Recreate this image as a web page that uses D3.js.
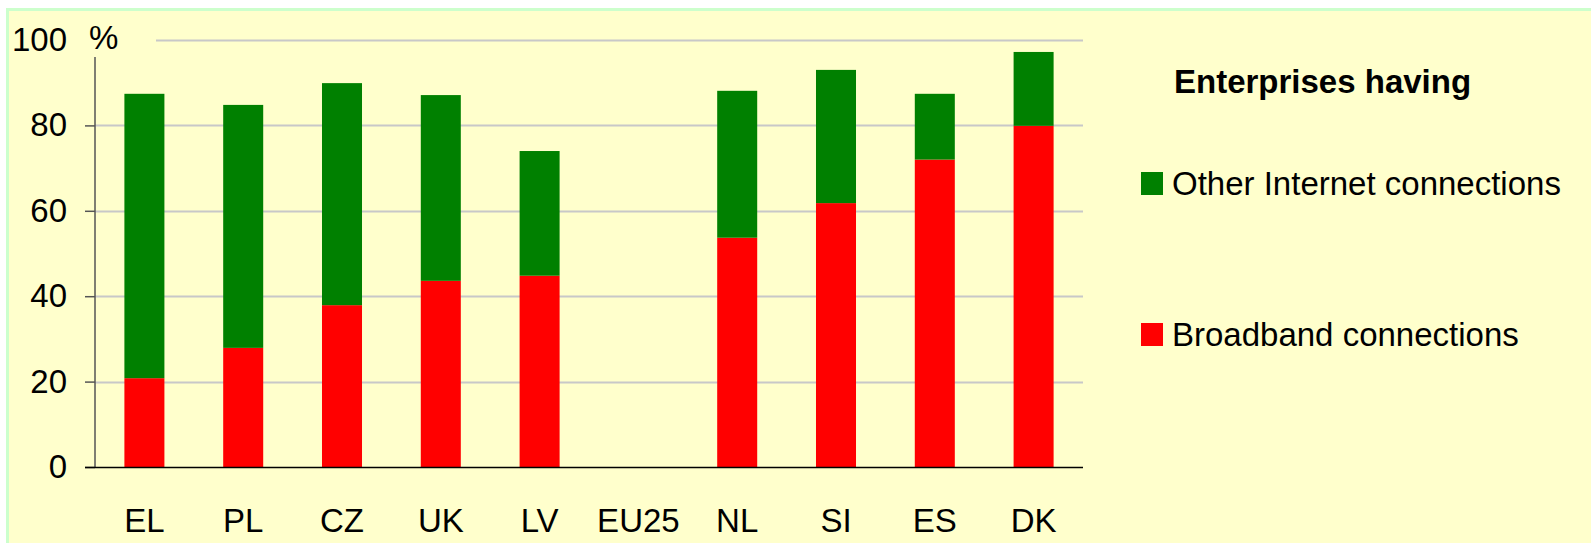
<!DOCTYPE html>
<html>
<head>
<meta charset="utf-8">
<script src="https://cdn.jsdelivr.net/npm/d3@7"></script>
<style>
  body { margin: 0; background: #fff; }
  svg { display: block; font-family: "Liberation Sans", Arial, sans-serif; }
</style>
</head>
<body>
<svg width="1591" height="543"></svg>
<script>
// data (%)
var categories = ['EL', 'PL', 'CZ', 'UK', 'LV', 'EU25', 'NL', 'SI', 'ES', 'DK'];
var broadband = [20.8, 27.9, 37.9, 43.6, 44.8, 0, 53.7, 61.8, 72.0, 79.9];
var other = [66.6, 56.9, 52.0, 43.5, 29.2, 0, 34.4, 31.2, 15.4, 17.3];
var yTicks = [0, 20, 40, 60, 80, 100];

var seriesKeys = ['broadband', 'other'];
var seriesNames = { broadband: 'Broadband connections', other: 'Other Internet connections' };
var colors = { broadband: '#ff0000', other: '#008000' };

var rows = categories.map(function(c, i) {
  return { cat: c, broadband: broadband[i], other: other[i] };
});

var svg = d3.select('svg');

// panel background + border
svg.append('rect')
  .attr('x', 6).attr('y', 8)
  .attr('width', 1600).attr('height', 560)
  .attr('fill', '#ccffcc');
svg.append('rect')
  .attr('x', 9).attr('y', 11)
  .attr('width', 1600).attr('height', 560)
  .attr('fill', '#ffffcc');

var plotLeft = 95, plotRight = 1083, plotTop = 40, plotBottom = 467;

var x = d3.scaleBand()
  .domain(categories)
  .range([plotLeft, plotRight])
  .paddingInner(0.595)
  .paddingOuter(0.2975);

var y = d3.scaleLinear()
  .domain([0, 100])
  .range([plotBottom, plotTop]);

// gridlines
svg.append('g')
  .selectAll('line')
  .data(yTicks.filter(function(d) { return d > 0; }))
  .enter()
  .append('line')
  .attr('x1', function(d) { return d === 100 ? 156 : plotLeft; })
  .attr('x2', plotRight)
  .attr('y1', function(d) { return Math.round(y(d)) + 0.5; })
  .attr('y2', function(d) { return Math.round(y(d)) + 0.5; })
  .attr('stroke', '#c8c8c8')
  .attr('stroke-width', 2);

// stacked bars
var stack = d3.stack().keys(seriesKeys);
var layers = stack(rows);

svg.append('g')
  .selectAll('g')
  .data(layers)
  .enter()
  .append('g')
  .attr('fill', function(d) { return colors[d.key]; })
  .selectAll('rect')
  .data(function(d) { return d; })
  .enter()
  .append('rect')
  .attr('x', function(d) { return x(d.data.cat); })
  .attr('width', x.bandwidth())
  .attr('y', function(d) { return y(d[1]); })
  .attr('height', function(d) { return y(d[0]) - y(d[1]); });

// y axis
var yAxis = d3.axisLeft(y)
  .tickValues(yTicks)
  .tickSize(10)
  .tickPadding(18)
  .tickFormat(d3.format('d'));

var gy = svg.append('g')
  .attr('transform', 'translate(' + plotLeft + ',0)')
  .call(yAxis);
gy.select('.domain').remove();
gy.selectAll('.tick line')
  .attr('stroke', '#555')
  .attr('stroke-width', 1.5)
  .filter(function(d) { return d === 100; }).remove();
gy.selectAll('.tick text')
  .attr('font-size', 33)
  .attr('fill', '#000')
  .attr('font-family', '"Liberation Sans", Arial, sans-serif');

svg.append('line')
  .attr('x1', plotLeft).attr('x2', plotLeft)
  .attr('y1', 57).attr('y2', plotBottom)
  .attr('stroke', '#555')
  .attr('stroke-width', 1.5);

svg.append('text')
  .attr('x', 89).attr('y', 49)
  .attr('font-size', 33)
  .text('%');

// x axis
var gx = svg.append('g')
  .attr('transform', 'translate(0,' + plotBottom + ')')
  .call(d3.axisBottom(x).tickSize(0).tickPadding(42));
gx.select('.domain').remove();
gx.selectAll('.tick text')
  .attr('font-size', 33)
  .attr('fill', '#000')
  .attr('font-family', '"Liberation Sans", Arial, sans-serif');

svg.append('line')
  .attr('x1', 85).attr('x2', plotRight)
  .attr('y1', plotBottom + 0.5).attr('y2', plotBottom + 0.5)
  .attr('stroke', '#000')
  .attr('stroke-width', 1.5);

// legend
svg.append('text')
  .attr('x', 1174).attr('y', 93)
  .attr('font-size', 33)
  .attr('font-weight', 'bold')
  .text('Enterprises having');

var legendItems = [
  { key: 'other', y: 172 },
  { key: 'broadband', y: 323 }
];

var lg = svg.append('g')
  .selectAll('g')
  .data(legendItems)
  .enter()
  .append('g');

lg.append('rect')
  .attr('x', 1141)
  .attr('y', function(d) { return d.y; })
  .attr('width', 22).attr('height', 23)
  .attr('fill', function(d) { return colors[d.key]; });

lg.append('text')
  .attr('x', 1172)
  .attr('y', function(d) { return d.y + 23; })
  .attr('font-size', 33)
  .text(function(d) { return seriesNames[d.key]; });
</script>
</body>
</html>
